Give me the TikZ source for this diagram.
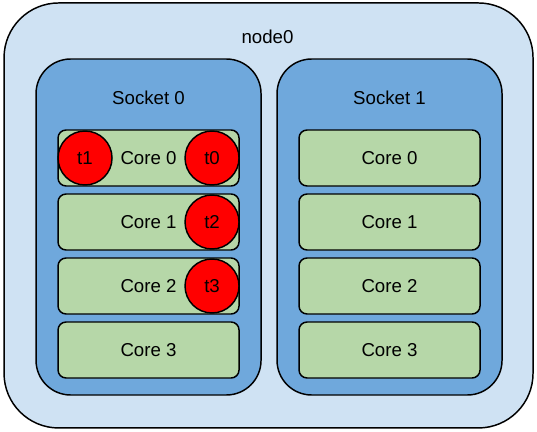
\documentclass[tikz,border=0pt]{standalone}
\usepackage{fontspec}
\setmainfont{Liberation Sans}
\usepackage{tikz}
\usetikzlibrary{positioning,shapes}
\definecolor{nodeblue}{HTML}{CFE2F3}
\definecolor{socketblue}{HTML}{6FA8DC}
\definecolor{coregreen}{HTML}{B6D7A8}
\definecolor{threadred}{HTML}{FF0000}
\tikzstyle{machine} = [rectangle, rounded corners=41pt, minimum width=396.75pt, minimum height=318.75pt, draw=black, fill=nodeblue]
\tikzstyle{socket} = [rectangle, rounded corners=26pt, minimum width=168.75pt, minimum height=252pt, draw=black, fill=socketblue]
\tikzstyle{core} = [rectangle, rounded corners=6pt, minimum width=135.75pt, minimum height=42pt, text centered, draw=black, fill=coregreen]
\tikzstyle{thread} = [circle, minimum size=40.5pt, inner sep=0pt, text centered, draw=black, fill=threadred]
\def\lblshift{30pt}

\begin{document}
\begin{tikzpicture}[node distance=48pt, line width=1.1pt, font=\fontsize{14}{16}\selectfont]
\useasboundingbox (0,0) rectangle (402.75pt,-324pt);

\node (node0) [machine] at (201.4pt,-161.6pt) {};
\node (node0lbl) at (200.6pt,-27.75pt) {node0};

% socket 0
\node (socket0) [socket] at (111.4pt,-170.25pt) {};
\node (socket0lbl) at ([yshift=-\lblshift]socket0.north) {Socket 0};

\node (s0core0) [core] at (111.4pt,-118.5pt) {Core 0};
\node (s0core1) [core, below of=s0core0] {Core 1};
\node (s0core2) [core, below of=s0core1] {Core 2};
\node (s0core3) [core, below of=s0core2] {Core 3};

\node (t1) [thread, right=0pt of s0core0.west] {t1};
\node (t0) [thread, left=0pt of s0core0.east] {t0};
\node (t2) [thread, left=0pt of s0core1.east] {t2};
\node (t3) [thread, left=0pt of s0core2.east] {t3};

% socket 1
\node (socket1) [socket, right of=socket0, xshift=132.75pt] {};
\node (socket1lbl) at ([yshift=-\lblshift]socket1.north) {Socket 1};

\node (s1core0) [core, right of=s0core0, xshift=132.75pt] {Core 0};
\node (s1core1) [core, below of=s1core0] {Core 1};
\node (s1core2) [core, below of=s1core1] {Core 2};
\node (s1core3) [core, below of=s1core2] {Core 3};

\end{tikzpicture}
\end{document}
